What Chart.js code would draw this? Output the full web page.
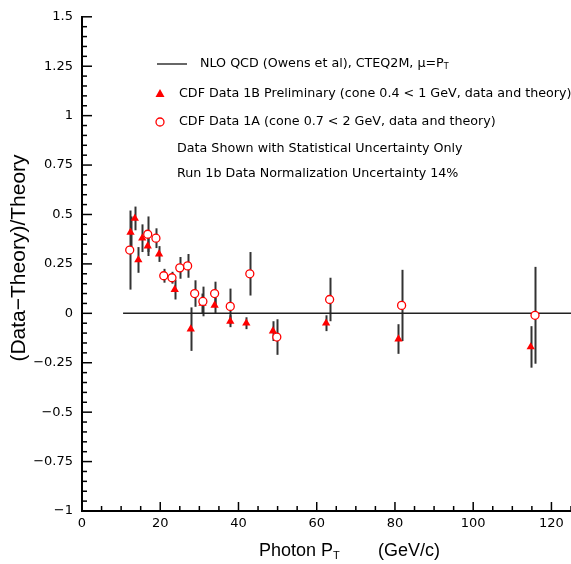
<!DOCTYPE html>
<html>
<head>
<meta charset="utf-8">
<script src="https://cdn.jsdelivr.net/npm/chart.js@4.4.1/dist/chart.umd.min.js"></script>
<style>
  html, body { margin: 0; padding: 0; background: #fff; }
  #wrap { width: 571px; height: 564px; }
</style>
</head>
<body>
<div id="wrap"><canvas id="myChart" width="571" height="564"></canvas></div>
<script>
// CDF Data 1B Preliminary (triangles)
const ptB = [12.4, 13.5, 14.4, 15.4, 16.8, 19.7, 23.7, 27.8, 30.8, 33.9, 37.9, 42.0, 48.8, 62.4, 80.9, 114.7];
const valB = [0.41, 0.48, 0.27, 0.38, 0.34, 0.30, 0.12, -0.08, 0.05, 0.04, -0.04, -0.05, -0.09, -0.05, -0.13, -0.17];
const errB = [0.08, 0.06, 0.065, 0.07, 0.05, 0.04, 0.05, 0.11, 0.05, 0.04, 0.03, 0.03, 0.05, 0.04, 0.075, 0.105];

// CDF Data 1A (open circles)
const ptA = [12.2, 16.8, 18.9, 20.9, 23.0, 25.0, 27.0, 28.8, 30.9, 33.9, 37.9, 42.9, 49.8, 63.3, 81.7, 115.8];
const valA = [0.32, 0.40, 0.38, 0.19, 0.18, 0.23, 0.24, 0.10, 0.06, 0.10, 0.035, 0.20, -0.12, 0.07, 0.04, -0.01];
const errA = [0.20, 0.09, 0.05, 0.035, 0.03, 0.055, 0.06, 0.067, 0.075, 0.06, 0.09, 0.11, 0.09, 0.11, 0.18, 0.245];

// NLO QCD theory line
const theoryPt = [10.5, 125];
const theoryVal = [0, 0];

const xTicks = [0, 20, 40, 60, 80, 100, 120];
const yTicks = [-1, -0.75, -0.5, -0.25, 0, 0.25, 0.5, 0.75, 1, 1.25, 1.5];

const FONT = "'Liberation Sans', Arial, sans-serif";
const FONT2 = "'DejaVu Sans', sans-serif";

function pts(xs, ys) {
  return xs.map((x, i) => ({ x: x, y: ys[i] }));
}

// error bars + inward tick marks + texts
const extras = {
  id: 'extras',
  beforeDatasetsDraw(chart) {
    const ctx = chart.ctx;
    const xs = chart.scales.x, ys = chart.scales.y;
    ctx.save();
    ctx.strokeStyle = '#333';
    ctx.lineWidth = 2;
    const bars = [[ptA, valA, errA], [ptB, valB, errB]];
    bars.forEach(([px, py, pe]) => {
      px.forEach((x, i) => {
        const X = Math.round(xs.getPixelForValue(x)) + 0.5;
        ctx.beginPath();
        ctx.moveTo(X, ys.getPixelForValue(py[i] + pe[i]));
        ctx.lineTo(X, ys.getPixelForValue(py[i] - pe[i]));
        ctx.stroke();
      });
    });
    ctx.restore();
  },
  afterDraw(chart) {
    const ctx = chart.ctx;
    const xs = chart.scales.x, ys = chart.scales.y;
    const area = chart.chartArea;
    ctx.save();
    ctx.strokeStyle = '#000';
    ctx.lineWidth = 1.5;
    // y ticks, every 0.05, major every 0.25
    for (let k = -20; k <= 30; k++) {
      const Y = ys.getPixelForValue(k * 0.05);
      const len = (k % 5 === 0) ? 10 : 5;
      ctx.beginPath();
      ctx.moveTo(area.left, Y);
      ctx.lineTo(area.left + len, Y);
      ctx.stroke();
    }
    // x ticks, every 5, major every 20
    for (let k = 0; k <= 25; k++) {
      const X = xs.getPixelForValue(k * 5);
      const len = (k % 4 === 0) ? 9 : 5;
      ctx.beginPath();
      ctx.moveTo(X, area.bottom);
      ctx.lineTo(X, area.bottom - len);
      ctx.stroke();
    }

    // legend
    ctx.fillStyle = '#000';
    ctx.textBaseline = 'middle';
    ctx.textAlign = 'left';
    ctx.lineWidth = 1.2;
    ctx.beginPath();
    ctx.moveTo(157, 64);
    ctx.lineTo(187, 64);
    ctx.stroke();
    ctx.font = '12.7px ' + FONT2;
    let t = 'NLO QCD (Owens et al), CTEQ2M, \u03BC=P';
    ctx.fillText(t, 200, 64);
    let w = ctx.measureText(t).width;
    ctx.font = '8px ' + FONT2;
    ctx.fillText('T', 200 + w, 67);

    ctx.fillStyle = '#ff0000';
    ctx.beginPath();
    ctx.moveTo(160, 89);
    ctx.lineTo(164.5, 97);
    ctx.lineTo(155.5, 97);
    ctx.closePath();
    ctx.fill();
    ctx.strokeStyle = '#ff0000';
    ctx.lineWidth = 1.3;
    ctx.beginPath();
    ctx.arc(160, 122, 4, 0, Math.PI * 2);
    ctx.stroke();

    ctx.fillStyle = '#000';
    ctx.font = '12.7px ' + FONT2;
    ctx.fillText('CDF Data 1B Preliminary (cone 0.4 < 1 GeV, data and theory)', 179, 94);
    ctx.fillText('CDF Data 1A (cone 0.7 < 2 GeV, data and theory)', 179, 122);
    ctx.fillText('Data Shown with Statistical Uncertainty Only', 177, 149);
    ctx.fillText('Run 1b Data Normalization Uncertainty 14%', 177, 174);

    // axis titles
    ctx.font = '18px ' + FONT;
    t = 'Photon P';
    ctx.fillText(t, 259, 551);
    w = ctx.measureText(t).width;
    ctx.font = '11px ' + FONT;
    ctx.fillText('T', 259 + w, 556);
    ctx.font = '18px ' + FONT;
    ctx.fillText('(GeV/c)', 378, 551);

    ctx.translate(19, 258);
    ctx.rotate(-Math.PI / 2);
    ctx.textAlign = 'center';
    ctx.font = '21px ' + FONT;
    ctx.fillText('(Data\u2212Theory)/Theory', 0, 0);
    ctx.restore();
  }
};

const ctx = document.getElementById('myChart').getContext('2d');
const myChart = new Chart(ctx, {
  type: 'scatter',
  data: {
    datasets: [{
      label: 'NLO QCD',
      data: pts(theoryPt, theoryVal),
      showLine: true,
      borderColor: '#222',
      borderWidth: 1.5,
      pointRadius: 0,
      order: 3
    }, {
      label: 'CDF Data 1B Preliminary',
      data: pts(ptB, valB),
      pointStyle: 'triangle',
      pointRadius: 4.8,
      backgroundColor: '#ff0000',
      borderColor: '#ff0000',
      borderWidth: 0,
      order: 2
    }, {
      label: 'CDF Data 1A',
      data: pts(ptA, valA),
      pointStyle: 'circle',
      pointRadius: 4,
      backgroundColor: '#ffffff',
      borderColor: '#ff0000',
      borderWidth: 1.3,
      order: 1
    }]
  },
  options: {
    responsive: false,
    animation: false,
    layout: { autoPadding: false, padding: { top: 15, right: 0, left: 0, bottom: 0 } },
    plugins: {
      legend: { display: false },
      tooltip: { enabled: false }
    },
    scales: {
      x: {
        type: 'linear',
        min: 0,
        max: 125,
        grid: { display: false, drawTicks: false },
        border: { display: true, color: '#000', width: 2 },
        afterBuildTicks: (scale) => { scale.ticks = xTicks.map(v => ({ value: v })); },
        afterFit: (scale) => { scale.height = 53; scale.paddingRight = 0; scale.paddingLeft = 0; },
        ticks: {
          color: '#000',
          padding: 5,
          maxRotation: 0,
          font: { family: FONT2, size: 13 },
          callback: (v) => String(v)
        }
      },
      y: {
        type: 'linear',
        min: -1,
        max: 1.5,
        grid: { display: false, drawTicks: false },
        border: { display: true, color: '#000', width: 2 },
        afterBuildTicks: (scale) => { scale.ticks = yTicks.map(v => ({ value: v })); },
        afterFit: (scale) => { scale.width = 82; },
        ticks: {
          color: '#000',
          padding: 9,
          font: { family: FONT2, size: 13 },
          callback: (v) => String(v).replace('-', '\u2212')
        }
      }
    }
  },
  plugins: [extras]
});
</script>
</body>
</html>
